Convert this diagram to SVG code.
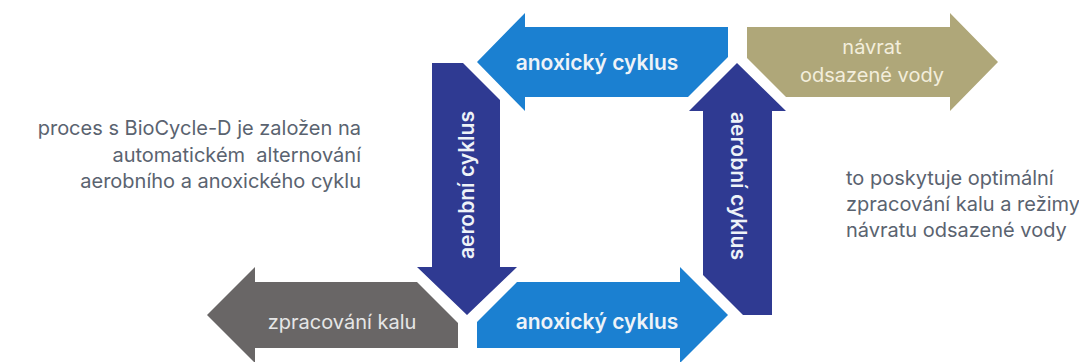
<svg xmlns="http://www.w3.org/2000/svg" width="1079" height="362" viewBox="0 0 1079 362">
<style>
.anox{fill:#1b80d1}
.aer{fill:#2f3a92}
.olive{fill:#afa779}
.gray{fill:#696666}
.lbl{font-family:Inter,"Liberation Sans",sans-serif;font-size:20px;fill:#eef3f8;text-anchor:middle;dominant-baseline:central}
.lblb{font-weight:600;font-size:21px}
.desc{font-family:Inter,"Liberation Sans",sans-serif;font-size:20px;fill:#5a6370}
</style>
<rect width="1079" height="362" fill="#ffffff"/>
<g id="connectors"/>
<g id="anoxic-top">
<polygon class="anox" points="477,62 525,13 525,27 728,27 728,57 688,97 525,97 525,111"/>
<text class="lbl lblb" x="597" y="62">anoxický cyklus</text>
</g>
<g id="navrat">
<polygon class="olive" points="747,27 950,27 950,13 998,62 950,111 950,97 786,97 747,58"/>
<text class="lbl" x="872" y="47" style="fill:#f3eedc">návrat</text>
<text class="lbl" x="872" y="75" style="fill:#f3eedc">odsazené vody</text>
</g>
<g id="aerobic-left">
<polygon class="aer" points="432,63 463,63 500,100 500,267 517,267 467,315 417,267 432,267"/>
<text class="lbl lblb" transform="translate(466,185) rotate(-90)" x="0" y="0">aerobní cyklus</text>
</g>
<g id="aerobic-right">
<polygon class="aer" points="737,63 786,111 772,111 772,315 743,315 703,275 703,111 689,111"/>
<text class="lbl lblb" transform="translate(738,186) rotate(90)" x="0" y="0">aerobní cyklus</text>
</g>
<g id="anoxic-bottom">
<polygon class="anox" points="517,282 680,282 680,267 728,315 680,363 680,348 477,348 477,322"/>
<text class="lbl lblb" x="597" y="321">anoxický cyklus</text>
</g>
<g id="sludge">
<polygon class="gray" points="207,315 255,267 255,282 417,282 458,323 458,348 255,348 255,363"/>
<text class="lbl" x="342" y="322" style="fill:#e6e6e6">zpracování kalu</text>
</g>
<g id="text-left">
<text class="desc" text-anchor="end" x="361" y="135">proces s BioCycle-D je založen na</text>
<text class="desc" text-anchor="end" x="361" y="162" style="white-space:pre">automatickém  alternování</text>
<text class="desc" text-anchor="end" x="361" y="188">aerobního a anoxického cyklu</text>
</g>
<g id="text-right">
<text class="desc" x="846" y="185">to poskytuje optimální</text>
<text class="desc" x="846" y="211">zpracování kalu a režimy</text>
<text class="desc" x="846" y="237">návratu odsazené vody</text>
</g>
</svg>
